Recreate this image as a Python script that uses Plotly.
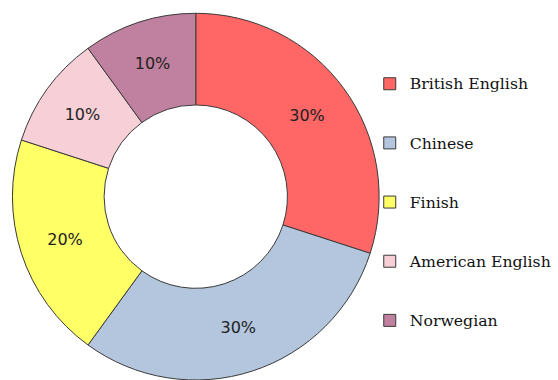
import plotly.graph_objects as go

languages = ["British English", "Chinese", "Finish", "American English", "Norwegian"]
shares = [30, 30, 20, 10, 10]
colors = ["#FF6666", "#B3C6DD", "#FFFF66", "#F6D0D6", "#C0809F"]

legend_labels = [
    "&nbsp;<br><span style='font-family:\"DejaVu Serif\", serif;font-size:15.7px'>%s</span><br>&nbsp;" % name
    for name in languages
]

fig = go.Figure(
    go.Pie(
        labels=legend_labels,
        values=shares,
        sort=False,
        direction="clockwise",
        rotation=0,
        hole=0.5,
        marker=dict(colors=colors, line=dict(color="#3a3a3a", width=1)),
        textinfo="percent",
        textposition="inside",
        insidetextorientation="horizontal",
        textfont=dict(family="DejaVu Sans", size=16, color="#222222"),
        domain=dict(x=[0.018, 0.718], y=[0.0, 0.965]),
        hoverinfo="skip",
    )
)

fig.update_layout(
    width=558,
    height=380,
    margin=dict(l=0, r=0, t=0, b=0),
    paper_bgcolor="white",
    plot_bgcolor="white",
    showlegend=True,
    legend=dict(
        x=0.695,
        xanchor="left",
        y=0.468,
        yanchor="middle",
        font=dict(family="DejaVu Serif, serif", size=14.4, color="#111111"),
        bgcolor="rgba(0,0,0,0)",
        borderwidth=0,
        valign="middle",
    ),
)

fig.write_html("out.html")
